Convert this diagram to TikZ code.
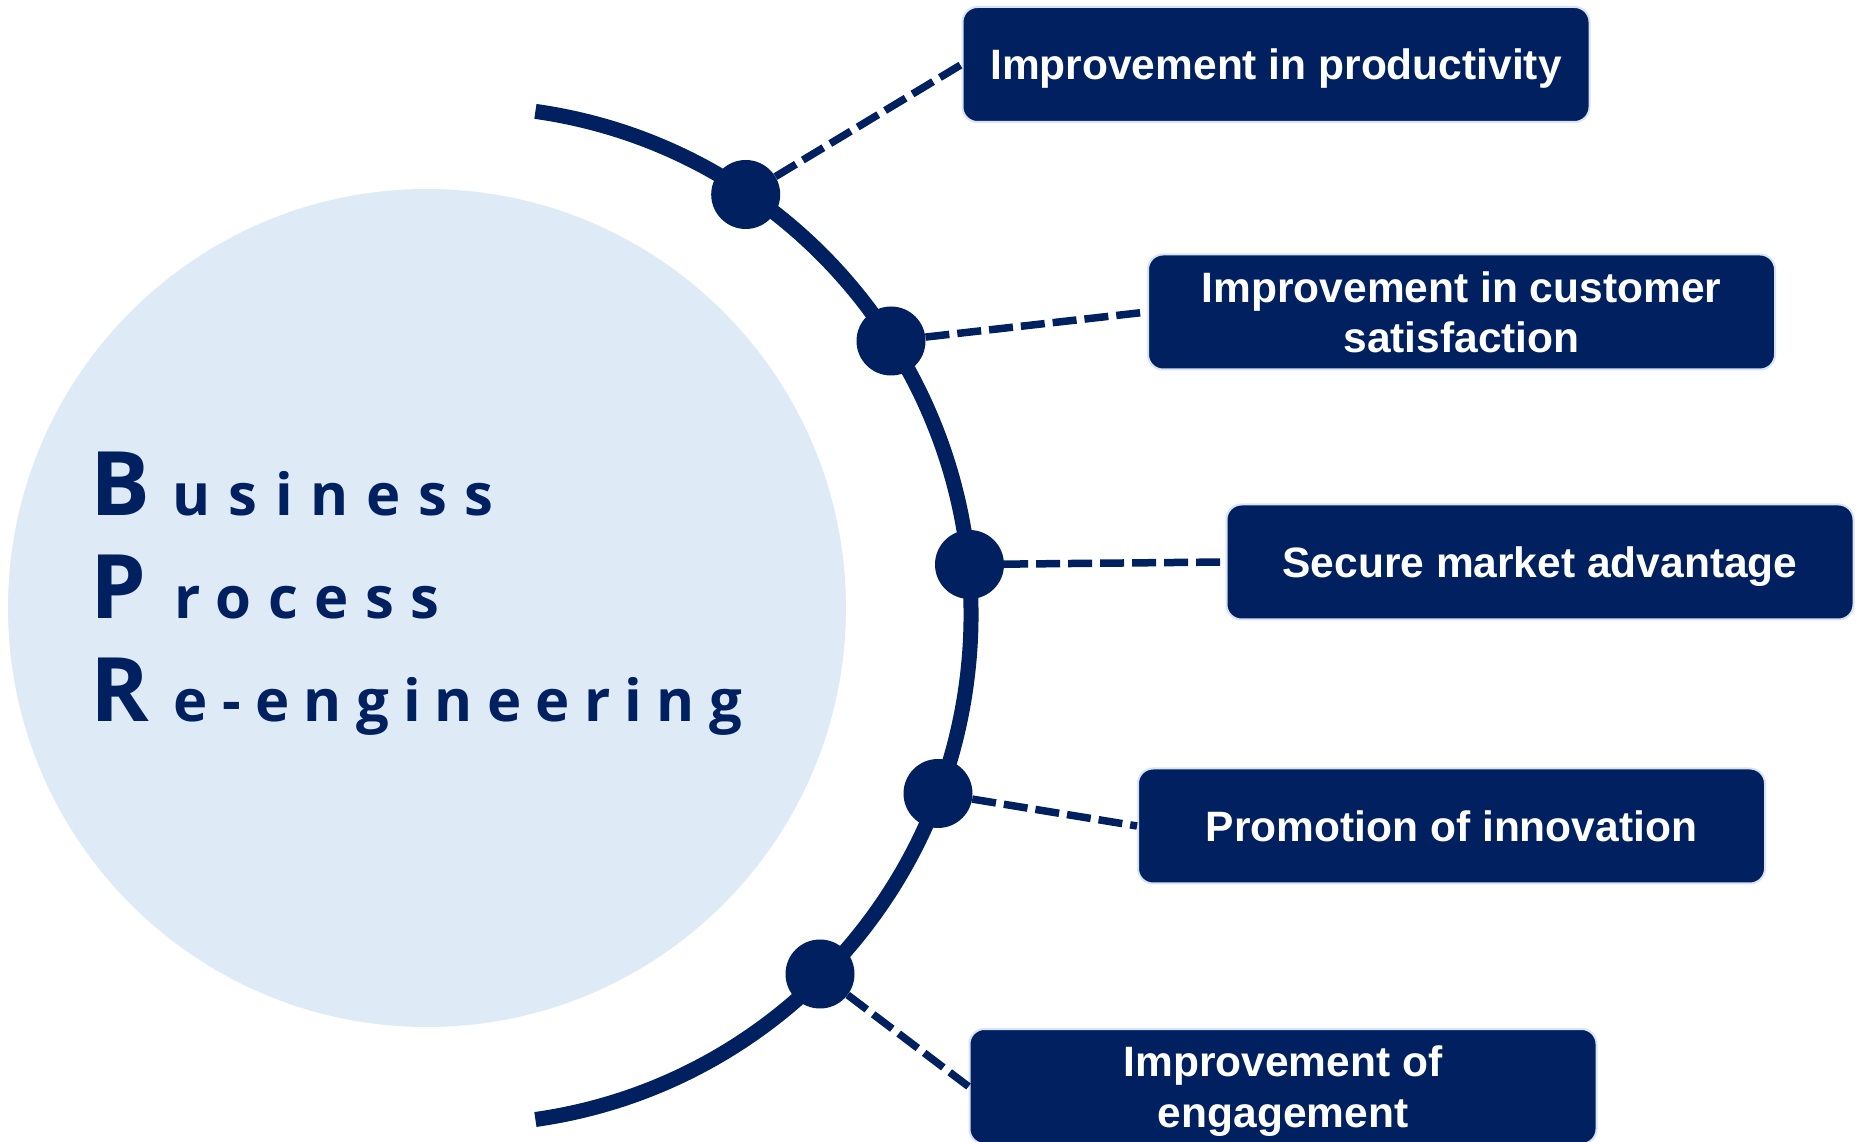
\documentclass[tikz,border=0pt]{standalone}
\usepackage{fontspec}
\setmainfont{Liberation Sans}
\newfontfamily\bprfont{Open Sans}
\newcommand{\bprcap}{\bprfont\bfseries\fontsize{89}{89}\selectfont}
\newcommand{\bprlow}[1]{\fontsize{58}{58}\selectfont\addfontfeature{LetterSpace=#1}}
\definecolor{navy}{HTML}{002060}
\definecolor{paleblue}{HTML}{DEEAF6}
\definecolor{rimblue}{HTML}{DAE3F3}

\begin{document}
\begin{tikzpicture}[x=1pt, y=1pt]
\useasboundingbox (0,0) rectangle (1858,1141);
\fill[paleblue] (427,533) circle[radius=419];
\draw[navy, line width=15] (535.4,1029.6) arc[start angle=82, end angle=-82, x radius=506, y radius=509];
\begin{scope}[every node/.style = {anchor=base west, inner sep=0, text=navy}]
\node (business) at (90,625) {\bprcap B\hspace{23pt}\bprlow{30.5}usiness};
\node (process) at (90,522.7) {\bprcap P\hspace{28pt}\bprlow{28.5}rocess};
\node (reeng) at (90,419.3) {\bprcap R\hspace{25pt}\bprlow{24.5}e-engineering};
\end{scope}
\begin{scope}[every node/.style = {circle, fill=navy, minimum size=69, inner sep=0}]
\node (d1) at (745.7,946.5) {};
\node (d2) at (891,800) {};
\node (d3) at (969.5,576.5) {};
\node (d4) at (938,347.5) {};
\node (d5) at (820,167) {};
\end{scope}
\begin{scope}[every node/.style = {rectangle, rounded corners=15, fill=navy, draw=rimblue, line width=2, minimum width=627, minimum height=115, text=white, align=center, text depth=0pt, font=\bfseries\fontsize{42.5}{50.5}\selectfont}]
\node (b1) at (1276,1076.5) {Improvement in productivity};
\node (b2) at (1461.5,829) {Improvement in customer\\satisfaction};
\node (b3) at (1540,579) {Secure market advantage};
\node (b4) at (1451.5,315) {Promotion of innovation};
\node (b5) at (1283,54.5) {Improvement of\\engagement};
\end{scope}
\begin{scope}[every edge/.style = {draw=navy, line width=7.5, dash pattern=on 24pt off 8pt}]
\path (d1) edge (b1.west);
\path (d2) edge (b2.west);
\path (d3) edge (b3.west);
\path (d4) edge (b4.west);
\path (d5) edge (b5.west);
\end{scope}
\end{tikzpicture}
\end{document}
